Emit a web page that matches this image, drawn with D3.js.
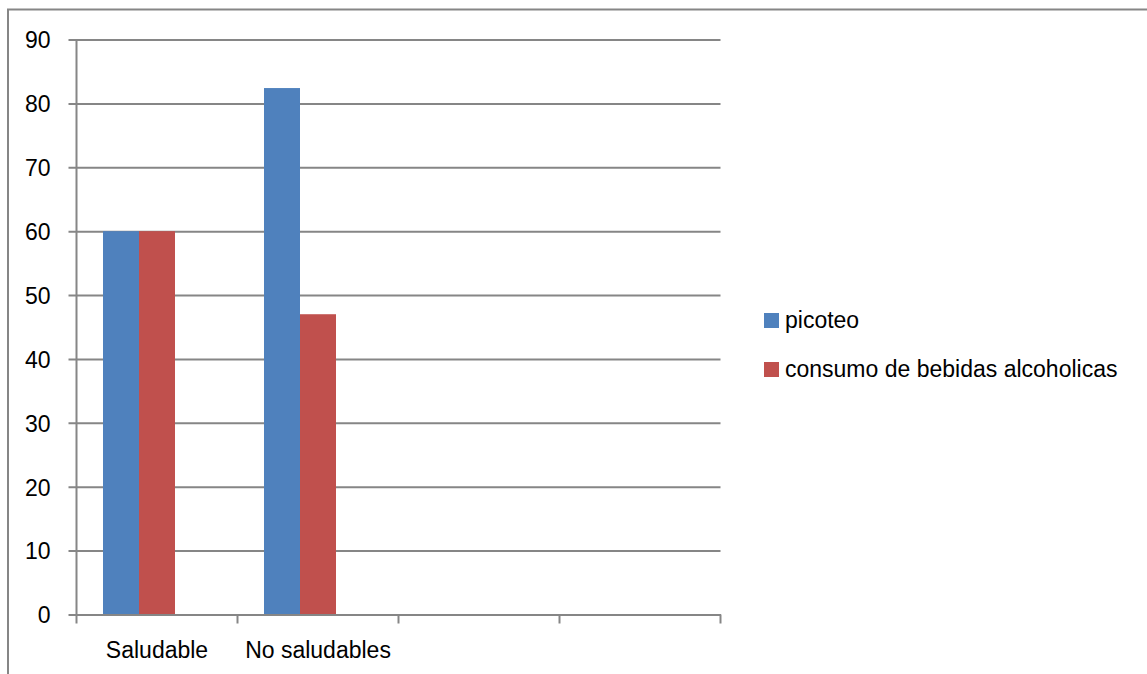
<!DOCTYPE html>
<html>
<head>
<meta charset="utf-8">
<script src="https://cdn.jsdelivr.net/npm/d3@7"></script>
<style>
  body { margin: 0; background: #fff; }
  svg text { font-family: "Liberation Sans", Arial, sans-serif; fill: #000; }
</style>
</head>
<body>
<div id="chart"></div>
<script>
// the data
let categories = ["Saludable", "No saludables", "", " "];
let series = ["picoteo", "consumo de bebidas alcoholicas"];
let colors = ["#4F81BD", "#C0504D"];
let picoteo = [60, 82.4, null, null];
let alcohol = [60, 47, null, null];
let yTicks = [0, 10, 20, 30, 40, 50, 60, 70, 80, 90];

let values = [picoteo, alcohol];

// dimensions
let W = 1147, H = 674;
let margin = { top: 39.5, left: 76.5 },
    plotW = 644, plotH = 575;
let fontSize = 23;

let svg = d3.select("#chart").append("svg")
    .attr("width", W).attr("height", H);

// outer frame
svg.append("rect")
    .attr("x", 8).attr("y", 9.5)
    .attr("width", W + 10).attr("height", H + 10)
    .attr("fill", "none").attr("stroke", "#868686").attr("stroke-width", 2);

let g = svg.append("g").attr("transform", "translate(" + margin.left + "," + margin.top + ")");

let y = d3.scaleLinear().domain([0, 90]).range([plotH, 0]);
let x0 = d3.scaleBand().domain(categories).range([0, plotW]);
// three slots per group, the third is empty
let x1 = d3.scaleBand().domain([...series, "_empty"])
    .range([0, x0.bandwidth()]).paddingOuter(0.736);

// gridlines + y labels
let yAxis = g.append("g").call(d3.axisLeft(y).tickValues(yTicks).tickSize(-plotW).tickSizeOuter(0).tickPadding(26));
yAxis.select(".domain").remove();
yAxis.selectAll(".tick line").attr("stroke", "#868686").attr("stroke-width", 2).attr("x1", -8);
yAxis.selectAll(".tick text").attr("font-size", fontSize).attr("dy", "0.36em");

// bars
series.forEach(function (s, i) {
    g.selectAll(".bar" + i)
        .data(categories.map(function (c, j) { return { cat: c, v: values[i][j] }; }).filter(function (d) { return d.v != null; }))
        .enter().append("rect")
        .attr("x", function (d) { return x0(d.cat) + x1(s); })
        .attr("y", function (d) { return y(d.v); })
        .attr("width", x1.bandwidth())
        .attr("height", function (d) { return plotH - y(d.v); })
        .attr("fill", colors[i]);
});

// y axis line
g.append("line").attr("x1", 0).attr("x2", 0).attr("y1", 0).attr("y2", plotH)
    .attr("stroke", "#868686").attr("stroke-width", 2);

// x axis
let xAxis = g.append("g").attr("transform", "translate(0," + plotH + ")")
    .call(d3.axisBottom(x0).tickSize(0).tickSizeOuter(0).tickPadding(27));
xAxis.select(".domain").attr("stroke", "#868686").attr("stroke-width", 2);
xAxis.selectAll(".tick text").attr("font-size", fontSize);
// category boundary ticks
let bounds = categories.map(function (c) { return x0(c); }).concat([plotW]);
xAxis.selectAll(".bound").data(bounds).enter().append("line")
    .attr("x1", function (d) { return d; }).attr("x2", function (d) { return d; })
    .attr("y1", 0).attr("y2", 9)
    .attr("stroke", "#868686").attr("stroke-width", 2);

// legend
let legend = svg.append("g").attr("transform", "translate(764,313)");
series.forEach(function (s, i) {
    let row = legend.append("g").attr("transform", "translate(0," + (i * 49) + ")");
    row.append("rect").attr("width", 15).attr("height", 15).attr("fill", colors[i]);
    row.append("text").attr("x", 21).attr("y", 15).attr("font-size", fontSize).text(s);
});
</script>
</body>
</html>
